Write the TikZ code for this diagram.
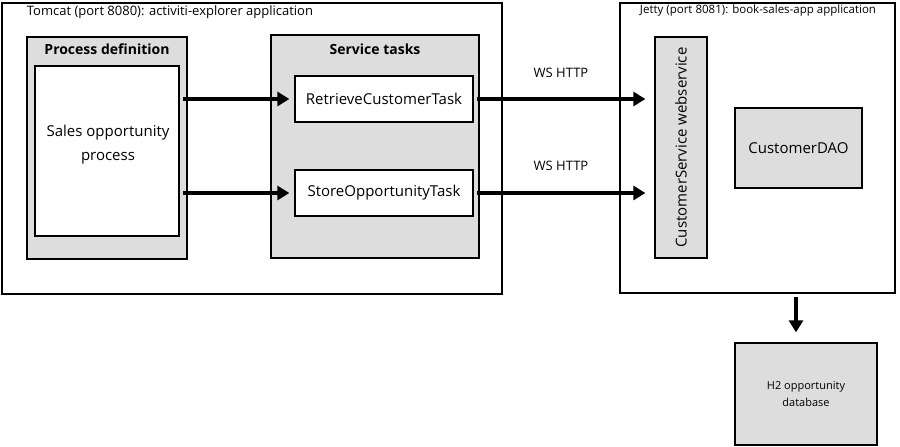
\documentclass[tikz,border=0pt]{standalone}
\usepackage{fontspec}
\setmainfont{Open Sans}
\usetikzlibrary{arrows.meta}
\definecolor{boxgray}{HTML}{DDDDDD}
\begin{document}
\begin{tikzpicture}[x=1pt,y=-1pt,
  box/.style={draw=black,line width=1.3pt,inner sep=0pt,align=center},
  graybox/.style={box,fill=boxgray},
  whitebox/.style={box,fill=white},
  lbl/.style={inner sep=0pt,font=\fontsize{13}{15}\selectfont},
  title/.style={inner sep=0pt,font=\fontsize{14}{16}\selectfont\bfseries},
  body/.style={font=\fontsize{15}{24}\selectfont},
  arr/.style={line width=3.5pt,-{Triangle[length=12pt,width=14pt]}}]
\useasboundingbox (0,0) rectangle (900,447);
% Tomcat
\node[box,minimum width=500pt,minimum height=291pt] (tomcat) at (252,148.5) {};
\node[lbl] (tomcatlbl) at (170,12) {Tomcat (port 8080): activiti-explorer application};
\node[graybox,minimum width=160pt,minimum height=222pt] (procdef) at (107,148) {};
\node[title] (procdeflbl) at (107,49) {Process definition};
\node[whitebox,body,minimum width=144pt,minimum height=170pt] (proc) at (107,151) {};
\node[body,align=center,inner sep=0pt] (proclbl) at (108,145) {Sales opportunity\\process};
\node[graybox,minimum width=208pt,minimum height=223pt] (svc) at (375,146.5) {};
\node[title] (svclbl) at (375,49) {Service tasks};
\node[whitebox,body,minimum width=178pt,minimum height=46pt] (ret) at (384,99) {RetrieveCustomerTask};
\node[whitebox,body,minimum width=178pt,minimum height=46pt] (store) at (384,193) {StoreOpportunityTask};
% Jetty
\node[box,minimum width=275pt,minimum height=290pt] (jetty) at (757.5,148) {};
\node[lbl,font=\fontsize{11.5}{14}\selectfont] (jettylbl) at (758,11) {Jetty (port 8081): book-sales-app application};
\node[graybox,body,minimum width=52pt,minimum height=221pt] (ws) at (681,147.5) {};
\node[body,rotate=90,inner sep=0pt] (wslbl) at (ws.center) {CustomerService webservice};
\node[graybox,body,minimum width=127pt,minimum height=80pt] (dao) at (798.5,148) {CustomerDAO};
\node[graybox,minimum width=142pt,minimum height=102pt] (h2) at (806,394) {};
\node[align=center,inner sep=0pt,font=\fontsize{11}{17}\selectfont] (h2lbl) at (h2.center) {H2 opportunity\\database};
% arrows
\draw[arr] ([xshift=3pt]proc.east |- ret.west) -- ([xshift=-5pt]ret.west);
\draw[arr] ([xshift=3pt]proc.east |- store.west) -- ([xshift=-5pt]store.west);
\draw[arr] ([xshift=3pt]ret.east) -- ([xshift=-9pt]ws.west |- ret.east) node[lbl,midway,above=20pt] (ws1) {WS HTTP};
\draw[arr] ([xshift=3pt]store.east) -- ([xshift=-9pt]ws.west |- store.east) node[lbl,midway,above=21pt] (ws2) {WS HTTP};
\draw[arr] ([xshift=38.5pt,yshift=-3pt]jetty.south) -- ([xshift=-10pt,yshift=10pt]h2.north);
\end{tikzpicture}
\end{document}
